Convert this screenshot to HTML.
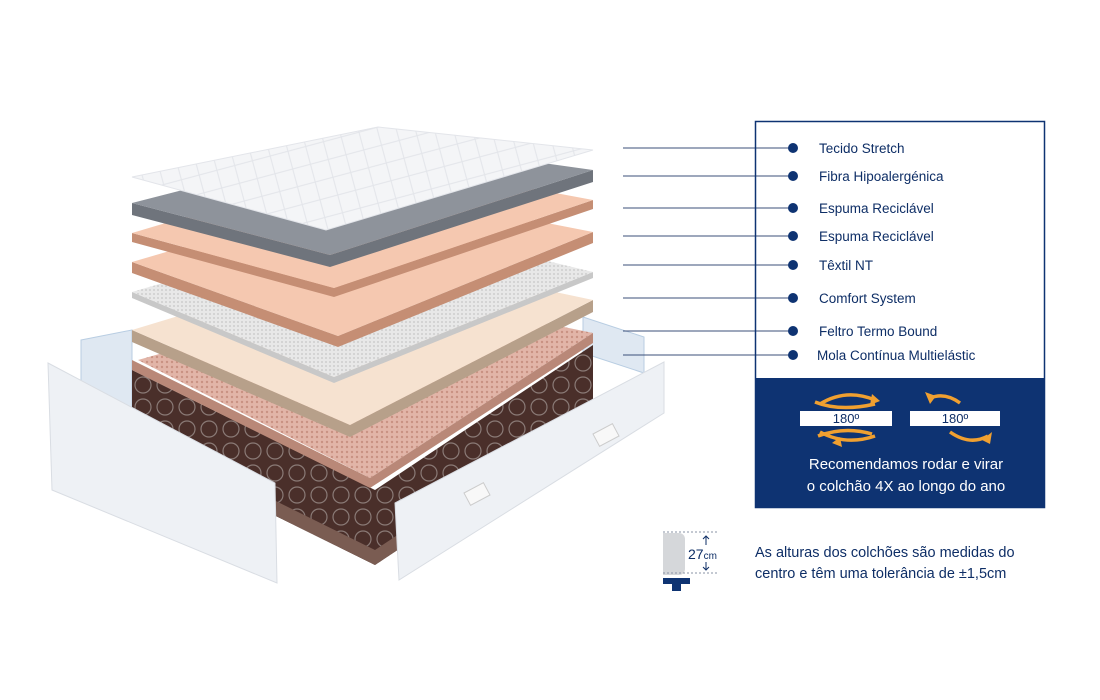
<!DOCTYPE html>
<html><head><meta charset="utf-8"><style>
body{margin:0;background:#fff;}
svg{display:block;font-family:"Liberation Sans",sans-serif;}
</style></head><body>
<svg width="1100" height="700" viewBox="0 0 1100 700">
<defs>
<pattern id="q" width="26" height="26" patternUnits="userSpaceOnUse" patternTransform="rotate(30)">
<rect width="26" height="26" fill="#f4f5f7"/><path d="M0 0L26 26M26 0L0 26" stroke="#e3e5ea" stroke-width="1"/></pattern>
<pattern id="sp" width="22" height="22" patternUnits="userSpaceOnUse">
<rect width="22" height="22" fill="#4a2f2a"/><circle cx="11" cy="11" r="8" fill="none" stroke="#8a7a76" stroke-width="1.2"/></pattern>
<pattern id="tx" width="4" height="4" patternUnits="userSpaceOnUse">
<rect width="4" height="4" fill="#e8e8e8"/><circle cx="2" cy="2" r="1" fill="#cfcfcf"/></pattern>
<pattern id="pk" width="5" height="5" patternUnits="userSpaceOnUse">
<rect width="5" height="5" fill="#e2b5a8"/><circle cx="2" cy="2" r="1.2" fill="#c99283"/></pattern>
</defs>

<polygon points="81,340 132,330 132,420 81,420" fill="#dfe8f2" stroke="#b8cde2"/>
<polygon points="583,317 644,337 644,373 583,353" fill="#dfe8f2" stroke="#b8cde2"/>

<!-- spring block -->
<polygon points="132,370 375,490 375,565 132,445" fill="url(#sp)"/>
<polygon points="375,490 593,345 593,420 375,565" fill="url(#sp)"/>
<polygon points="132,430 375,550 375,565 132,445" fill="#7a5c52"/>
<polygon points="375,550 593,405 593,420 375,565" fill="#7a5c52"/>

<polygon points="138,360 370,478 593,333 385,290" fill="url(#pk)"/>
<polygon points="132,360 370,478 370,488 132,370" fill="#b98878"/>
<polygon points="370,478 593,333 593,343 370,488" fill="#b98878"/>

<polygon points="132,330 350,425 350,437 132,342" fill="#b7a08a"/>
<polygon points="350,425 593,300 593,312 350,437" fill="#b7a08a"/>
<polygon points="132,330 350,425 593,300 380,255" fill="#f6e2d0"/>

<polygon points="132,292 334,377 334,383 132,298" fill="#c8c8c8"/>
<polygon points="334,377 593,272 593,278 334,383" fill="#c8c8c8"/>
<polygon points="132,292 334,377 593,272 378,220" fill="url(#tx)"/>

<polygon points="132,262 338,336 338,347 132,273" fill="#c58e74"/>
<polygon points="338,336 593,232 593,243 338,347" fill="#c58e74"/>
<polygon points="132,262 338,336 593,232 378,190" fill="#f5c8b0"/>

<polygon points="132,233 334,288 334,297 132,242" fill="#c58e74"/>
<polygon points="334,288 593,200 593,209 334,297" fill="#c58e74"/>
<polygon points="132,233 334,288 593,200 378,160" fill="#f5c8b0"/>

<polygon points="132,203 330,255 330,267 132,215" fill="#6f747c"/>
<polygon points="330,255 593,170 593,182 330,267" fill="#6f747c"/>
<polygon points="132,203 330,255 593,170 378,140" fill="#8e939b"/>

<polygon points="132,177 326,230 593,150 378,127" fill="url(#q)" stroke="#e3e5ea"/>

<polygon points="48,363 275,483 277,583 52,490" fill="#eef1f5" stroke="#d9dde3"/>
<polygon points="395,503 664,362 664,413 399,580" fill="#eef1f5" stroke="#d9dde3"/>
<rect x="466" y="487" width="22" height="14" fill="#f8f8f8" stroke="#ccc" transform="rotate(-28 477 494)"/>
<rect x="595" y="428" width="22" height="14" fill="#f8f8f8" stroke="#ccc" transform="rotate(-28 606 435)"/>

<g stroke="#3b4f7a" stroke-width="1">
<line x1="623" y1="148" x2="793" y2="148"/><line x1="623" y1="176" x2="793" y2="176"/>
<line x1="623" y1="208" x2="793" y2="208"/><line x1="623" y1="236" x2="793" y2="236"/>
<line x1="623" y1="265" x2="793" y2="265"/><line x1="623" y1="298" x2="793" y2="298"/>
<line x1="623" y1="331" x2="793" y2="331"/><line x1="623" y1="355" x2="793" y2="355"/>
</g>
<rect x="755.5" y="121.5" width="289" height="386" fill="none" stroke="#0e3372" stroke-width="1.5"/>
<rect x="755" y="378" width="290" height="130" fill="#0e3372"/>
<g fill="#0e3372">
<circle cx="793" cy="148" r="5"/><circle cx="793" cy="176" r="5"/><circle cx="793" cy="208" r="5"/><circle cx="793" cy="236" r="5"/>
<circle cx="793" cy="265" r="5"/><circle cx="793" cy="298" r="5"/><circle cx="793" cy="331" r="5"/><circle cx="793" cy="355" r="5"/>
</g>
<g fill="#0e2e66" font-size="13.5">
<text x="819" y="153">Tecido Stretch</text><text x="819" y="181">Fibra Hipoalergénica</text>
<text x="819" y="213">Espuma Reciclável</text><text x="819" y="241">Espuma Reciclável</text>
<text x="819" y="270">Têxtil NT</text><text x="819" y="303">Comfort System</text>
<text x="819" y="336">Feltro Termo Bound</text><text x="817" y="360">Mola Contínua Multielástic</text>
</g>
<rect x="800" y="411" width="92" height="15" fill="#fff"/><rect x="910" y="411" width="90" height="15" fill="#fff"/>
<g font-size="13" fill="#0e2e66" text-anchor="middle"><text x="846" y="423">180º</text><text x="955" y="423">180º</text></g>
<g fill="none" stroke="#f0a030" stroke-width="3.5">
<path d="M820 404 Q846 388 875 400"/><path d="M815 402 Q840 412 875 404"/>
<path d="M820 432 Q846 446 875 436"/><path d="M818 436 Q845 426 872 434"/>
<path d="M960 403 Q945 392 930 398"/><path d="M950 432 Q970 446 988 436"/>
</g>
<g fill="#f0a030"><polygon points="872,394 880,401 870,405"/><polygon points="840,437 832,443 842,447"/><polygon points="925,392 930,404 936,396"/><polygon points="982,440 992,432 990,444"/></g>
<g font-size="15" fill="#fff" text-anchor="middle"><text x="906" y="469">Recomendamos rodar e virar</text><text x="906" y="491">o colchão 4X ao longo do ano</text></g>

<rect x="663" y="533" width="22" height="42" rx="6" fill="#d5d7da"/>
<rect x="655" y="533" width="14" height="42" fill="#d5d7da"/>
<rect x="650" y="530" width="13" height="60" fill="#fff"/>
<line x1="663" y1="532" x2="718" y2="532" stroke="#8a93a6" stroke-dasharray="2,2"/>
<line x1="663" y1="573" x2="718" y2="573" stroke="#8a93a6" stroke-dasharray="2,2"/>
<text x="688" y="559" font-size="14" fill="#0e2e66">27<tspan font-size="10">cm</tspan></text>
<g stroke="#0e2e66" fill="none"><path d="M706 545V536M703 539L706 536L709 539"/><path d="M706 562V570M703 567L706 570L709 567"/></g>
<rect x="663" y="578" width="27" height="6" fill="#0e3372"/><rect x="672" y="583" width="9" height="8" fill="#0e3372"/>
<g font-size="14.5" fill="#0e2e66"><text x="755" y="557">As alturas dos colchões são medidas do</text><text x="755" y="578">centro e têm uma tolerância de ±1,5cm</text></g>
</svg>
</body></html>
